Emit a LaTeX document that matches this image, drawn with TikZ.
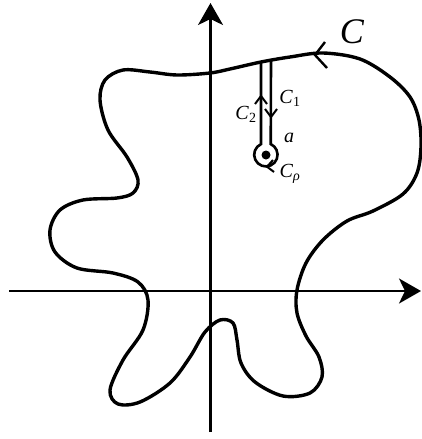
\documentclass[tikz,border=0pt]{standalone}
\usepackage{fontspec}
\setmainfont{Liberation Serif}
\usetikzlibrary{arrows.meta}
\begin{document}
\begin{tikzpicture}[x=1pt,y=-1pt,
  axis/.style={line width=2.3pt,-{Stealth[length=22pt,width=25pt,inset=6pt]}},
  contour/.style={line width=3.4pt,line join=round},
  slit/.style={line width=2.6pt},
  chev/.style={line width=2.4pt,line join=miter},
  lbl/.style={inner sep=0pt,font=\fontsize{20}{22}\selectfont}]
\useasboundingbox (0,0) rectangle (422,439);
% axes
\coordinate (xl) at (9,291);
\coordinate (xr) at (421,291);
\coordinate (yb) at (210.5,432);
\coordinate (yt) at (210.5,3);
\draw[axis] (xl) -- (xr);
\draw[axis] (yb) -- (yt);
% contour C
\draw[contour] plot[smooth cycle, tension=0.55] coordinates {
 (261,62) (230,69) (210,73) (177,75) (150,72) (123,70) (105,80) (100,100)
 (108,130) (127,157) (138,180) (133,193) (117,198) (83,200) (60,210) (50,230)
 (55,252) (77,268) (113,273) (138,282) (148,300) (143,330) (123,360) (110,390)
 (118,404) (140,402) (170,383) (190,357) (205,332) (220,320) (233,323) (237,340)
 (241,363) (255,382) (283,396) (310,393) (322,377) (319,357) (306,336) (297,313)
 (297,290) (306,263) (323,240) (347,221) (373,211) (403,194) (417,173) (421,147)
 (419,120) (410,97) (390,77) (360,59) (323,53) (290,57)};
% arrow on C
\coordinate (ca) at (315,55);
\draw[chev] (325,42) -- (ca) -- (327,68);
% slit
\coordinate (sl) at (261,62);
\coordinate (sr) at (271,60);
\coordinate (cc) at (266,155);
\draw[slit] (sl) -- (261,144.1) arc[start angle=245.4, end angle=-65.4, radius=11.7] -- (sr);
\fill (cc) circle (4.5pt);
% arrows on slit
\draw[chev,line width=2pt] (255,104) -- (261,96) -- (267,104);
\draw[chev,line width=2pt] (265,109) -- (271,117) -- (277,109);
% arrow on small circle
\draw[chev,line width=2pt] (273,160) -- (267,166.7) -- (274,172);
% labels
\node[inner sep=0pt,font=\fontsize{36}{38}\selectfont] (lC) at (352,32) {\textit{C}};
\node[lbl] (l1) at (290,98) {\textit{C}\textsubscript{1}};
\node[lbl] (l2) at (246,114) {\textit{C}\textsubscript{2}};
\node[lbl] (la) at (289,138) {\textit{a}};
\node[lbl] (lr) at (290,174) {\textit{C}\textsubscript{\textit{ρ}}};
\end{tikzpicture}
\end{document}
